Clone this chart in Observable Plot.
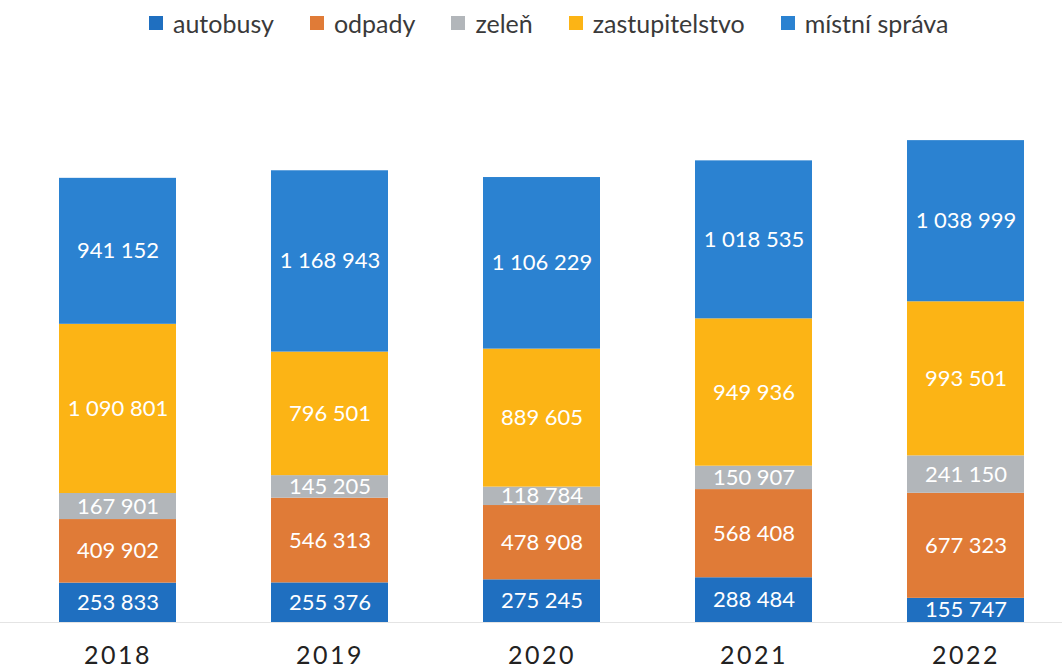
<!DOCTYPE html>
<html>
<head>
<meta charset="utf-8">
<script src="https://cdn.jsdelivr.net/npm/d3@7"></script>
<script src="https://cdn.jsdelivr.net/npm/@observablehq/plot@0.6"></script>
<style>
  body { margin: 0; background: #fff; font-family: Lato, "Open Sans", sans-serif; }
  #legend { height: 45px; display: flex; align-items: center; padding-left: 149px; gap: 0; font-size: 25px; color: #3a3a3a; }
  #legend .item { display: flex; align-items: center; margin-right: 36px; }
  #legend .sw { width: 14px; height: 14px; margin-right: 10px; }
  svg g[aria-label="x-axis tick label"] text { letter-spacing: 2.5px; }
</style>
</head>
<body>
<div id="legend"></div>
<div id="chart"></div>
<script>
const years = ["2018", "2019", "2020", "2021", "2022"];
const seriesNames = ["autobusy", "odpady", "zeleň", "zastupitelstvo", "místní správa"];
const seriesColors = ["#1f6fc0", "#e07b37", "#b2b6ba", "#fcb415", "#2b82d1"];
const autobusy = [253833, 255376, 275245, 288484, 155747];
const odpady = [409902, 546313, 478908, 568408, 677323];
const zelen = [167901, 145205, 118784, 150907, 241150];
const zastupitelstvo = [1090801, 796501, 889605, 949936, 993501];
const mistniSprava = [941152, 1168943, 1106229, 1018535, 1038999];

const seriesValues = [autobusy, odpady, zelen, zastupitelstvo, mistniSprava];
const data = [];
seriesNames.forEach((s, si) => {
  years.forEach((y, yi) => data.push({year: y, series: s, value: seriesValues[si][yi]}));
});

const fmt = d3.formatLocale({decimal: ",", thousands: "\u00a0", grouping: [3], currency: ["", ""]}).format(",");

// legend
const legend = document.getElementById("legend");
seriesNames.forEach((s, i) => {
  const it = document.createElement("div");
  it.className = "item";
  it.innerHTML = `<span class="sw" style="background:${seriesColors[i]}"></span><span>${s}</span>`;
  legend.appendChild(it);
});

const chart = Plot.plot({
  width: 1062,
  height: 625,
  marginTop: 0,
  marginBottom: 48,
  marginLeft: 0,
  marginRight: 0,
  style: {fontFamily: "Lato, 'Open Sans', sans-serif", background: "#fff"},
  x: {domain: years, range: [11, 1072], paddingInner: 0.45, paddingOuter: 0.225, label: null},
  y: {domain: [0, 3720000], axis: null},
  color: {domain: seriesNames, range: seriesColors},
  marks: [
    Plot.ruleY([0], {stroke: "#e4e4e4"}),
    Plot.barY(data, {x: "year", y: "value", fill: "series", z: "series", order: seriesNames}),
    Plot.text(data, Plot.stackY({x: "year", y: "value", z: "series", order: seriesNames,
      text: d => fmt(d.value), fill: "white", fontSize: 22})),
    Plot.axisX({tickSize: 0, tickPadding: 24, fontSize: 25, fill: "#222", label: null})
  ]
});
document.getElementById("chart").appendChild(chart);
</script>
</body>
</html>
